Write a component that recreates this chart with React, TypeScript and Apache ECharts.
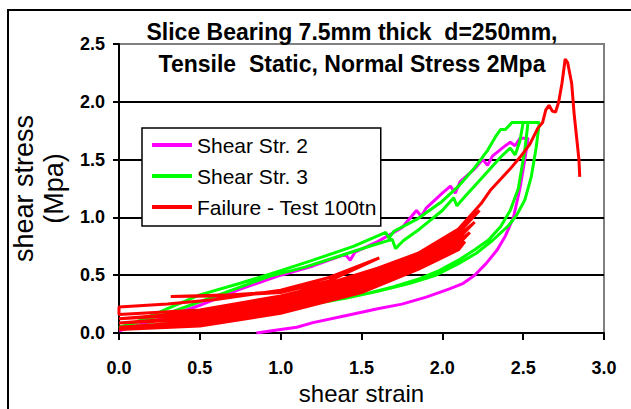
import React, { useEffect, useRef } from "react";
import * as echarts from "echarts";

const titleLines = ["Slice Bearing 7.5mm thick  d=250mm,", "Tensile  Static, Normal Stress 2Mpa"];
const seriesNames = ["Shear Str. 2", "Shear Str. 3", "Failure - Test 100tn"];
const seriesColors = ["#FF00FF", "#00FF00", "#FF0000"];

// Shear Str. 2 (magenta)
const shear2Load = [
  [0.0, 0.02], [0.25, 0.12], [0.5, 0.24], [0.75, 0.38], [1.0, 0.5], [1.2, 0.58], [1.4, 0.68],
  [1.43, 0.63], [1.46, 0.7], [1.6, 0.79], [1.75, 0.91], [1.84, 1.06], [1.87, 1.01], [1.9, 1.08],
  [2.0, 1.21], [2.05, 1.27], [2.08, 1.21], [2.11, 1.31], [2.2, 1.42], [2.25, 1.5], [2.28, 1.45],
  [2.31, 1.53], [2.38, 1.61], [2.42, 1.65], [2.45, 1.62], [2.48, 1.685], [2.53, 1.685],
];
const shear2Unload = [
  [2.51, 1.5], [2.48, 1.25], [2.44, 1.0], [2.39, 0.84], [2.34, 0.72], [2.27, 0.6], [2.2, 0.5],
  [2.13, 0.43], [2.04, 0.38], [1.9, 0.31], [1.75, 0.25], [1.6, 0.21], [1.4, 0.15], [1.2, 0.09],
  [1.1, 0.05], [1.0, 0.03], [0.85, 0.0],
];

// Shear Str. 3 (green)
const shear3Load1 = [
  [0.0, 0.04], [0.15, 0.12], [0.3, 0.21], [0.5, 0.33], [0.75, 0.43], [1.0, 0.54], [1.2, 0.63],
  [1.45, 0.75], [1.65, 0.87], [1.67, 0.82], [1.7, 0.88], [1.85, 0.99], [2.0, 1.14], [2.1, 1.27],
  [2.2, 1.43], [2.28, 1.58], [2.33, 1.7], [2.36, 1.76], [2.39, 1.76], [2.43, 1.82], [2.6, 1.82],
];
const shear3Unload1 = [
  [2.58, 1.6], [2.55, 1.35], [2.51, 1.15], [2.46, 1.02], [2.41, 0.93], [2.31, 0.8], [2.21, 0.69],
  [2.1, 0.6], [1.96, 0.5], [1.8, 0.43], [1.6, 0.36], [1.4, 0.3], [1.2, 0.25], [0.93, 0.19],
  [0.6, 0.13], [0.3, 0.08], [0.0, 0.05],
];
const shear3Load2 = [
  [0.3, 0.17], [0.6, 0.32], [0.93, 0.49], [1.15, 0.57], [1.35, 0.66], [1.55, 0.75], [1.69, 0.81],
  [1.71, 0.73], [1.76, 0.8], [1.86, 0.9], [2.0, 1.06], [2.07, 1.17], [2.09, 1.1], [2.14, 1.18],
  [2.25, 1.35], [2.36, 1.52], [2.42, 1.6], [2.45, 1.54], [2.48, 1.66], [2.5, 1.82], [2.53, 1.82],
];
const shear3Unload2 = [
  [2.51, 1.58], [2.47, 1.25], [2.42, 1.06], [2.36, 0.92], [2.29, 0.81], [2.2, 0.72], [2.1, 0.63],
  [1.98, 0.54], [1.86, 0.47], [1.7, 0.4], [1.5, 0.33], [1.2, 0.26], [0.93, 0.19], [0.5, 0.11],
  [0.0, 0.04],
];

// Failure - Test 100tn (red): dense band of load/unload cycles
const failCycle1 = [
  [0.0, 0.03], [0.5, 0.06], [1.0, 0.17], [1.5, 0.35], [1.85, 0.55], [2.1, 0.72], [2.14, 0.79],
  [2.1, 0.744], [1.85, 0.569], [1.5, 0.37], [1.0, 0.191], [0.5, 0.08], [0.0, 0.049],
];
const failCycle2 = [
  [0.5, 0.1], [1.0, 0.213], [1.5, 0.39], [1.85, 0.587], [2.1, 0.769], [2.17, 0.87],
  [2.1, 0.793], [1.85, 0.606], [1.5, 0.41], [1.0, 0.234], [0.5, 0.12], [0.0, 0.086],
];
const failCycle3 = [
  [0.5, 0.14], [1.0, 0.256], [1.5, 0.43], [1.85, 0.624], [2.1, 0.817], [2.2, 0.96],
  [2.1, 0.841], [1.85, 0.643], [1.5, 0.45], [1.0, 0.277], [0.5, 0.16], [0.0, 0.123],
];
const failCycle4 = [
  [0.5, 0.18], [1.0, 0.299], [1.5, 0.47], [1.85, 0.661], [2.1, 0.866], [2.23, 1.06],
  [2.1, 0.89], [1.85, 0.68], [1.5, 0.49], [1.0, 0.32], [0.5, 0.2], [0.0, 0.16],
];
const failCycle5 = [
  [0.0, 0.225], [0.3, 0.25], [0.6, 0.29], [1.0, 0.37], [1.3, 0.48], [1.61, 0.65],
  [1.3, 0.45], [1.0, 0.35], [0.6, 0.32], [0.32, 0.316],
];
const failFinal = [
  [0.7, 0.33], [1.0, 0.36], [1.3, 0.43], [1.6, 0.56], [1.85, 0.69], [2.1, 0.9], [2.24, 1.12],
  [2.3, 1.24], [2.36, 1.33], [2.42, 1.42], [2.48, 1.52], [2.54, 1.63], [2.59, 1.77],
  [2.62, 1.82], [2.64, 1.93], [2.66, 1.97], [2.68, 1.92], [2.7, 1.91], [2.72, 2.0], [2.74, 2.16],
  [2.76, 2.37], [2.775, 2.34], [2.8, 2.16], [2.815, 1.9], [2.83, 1.7], [2.845, 1.5], [2.85, 1.35],
];

const FONT = "'Liberation Sans', Arial, sans-serif";

export default function App() {
  const ref = useRef<HTMLDivElement>(null);
  useEffect(() => {
    if (!ref.current) return;
    const chart = echarts.init(ref.current, undefined, { renderer: "svg" });
    const shear2 = [...shear2Load, ...shear2Unload];
    const shear3 = [...shear3Load1, ...shear3Unload1, ...shear3Load2, ...shear3Unload2];
    const fail = [...failCycle1, ...failCycle2, ...failCycle3, ...failCycle4, ...failCycle5, ...failFinal];
    const widths = [3, 3, 3];
    const mk = (i: number, data: number[][]) => ({
      name: seriesNames[i],
      type: "line",
      data,
      showSymbol: false,
      symbol: "none",
      smooth: false,
      color: seriesColors[i],
      lineStyle: { color: seriesColors[i], width: widths[i] },
    });
    chart.setOption({
      animation: false,
      backgroundColor: "#fff",
      title: {
        text: titleLines.join("\n"),
        left: 352,
        top: 16,
        padding: 0,
        textAlign: "center",
        textStyle: { fontFamily: FONT, fontSize: 23, fontWeight: "bold", color: "#000", lineHeight: 32 },
      },
      graphic: [
        {
          type: "rect",
          shape: { x: 8, y: 10, width: 640, height: 420 },
          style: { fill: "none", stroke: "#000", lineWidth: 2 },
          z: -1,
          silent: true,
        },
      ],
      legend: {
        orient: "vertical",
        left: 142,
        top: 128,
        icon: "rect",
        itemWidth: 40,
        itemHeight: 4,
        itemGap: 7,
        padding: [5, 4, 7, 10],
        borderColor: "#000",
        borderWidth: 1.5,
        backgroundColor: "#fff",
        textStyle: { fontFamily: FONT, fontSize: 21, color: "#000", lineHeight: 24 },
        data: seriesNames,
      },
      grid: {
        left: 119,
        top: 44,
        right: 27,
        bottom: 76,
        containLabel: false,
        outerBoundsMode: "none",
        show: true,
        borderColor: "#808080",
        borderWidth: 2,
        backgroundColor: "#fff",
      },
      xAxis: {
        type: "value",
        min: 0,
        max: 3,
        interval: 0.5,
        name: "shear strain",
        nameLocation: "middle",
        nameGap: 45,
        nameTextStyle: { fontFamily: FONT, fontSize: 24, color: "#000" },
        axisLine: { show: true, lineStyle: { color: "#000", width: 2 } },
        axisTick: { show: true, inside: false, length: 7, lineStyle: { color: "#000", width: 2 } },
        axisLabel: {
          margin: 26,
          fontFamily: FONT,
          fontSize: 18,
          fontWeight: "bold",
          color: "#000",
          formatter: (v: number) => v.toFixed(1),
        },
        splitLine: { show: false },
      },
      yAxis: {
        type: "value",
        min: 0,
        max: 2.5,
        interval: 0.5,
        name: "shear stress\n(Mpa)",
        nameLocation: "middle",
        nameRotate: 90,
        nameGap: 46,
        nameTextStyle: { fontFamily: FONT, fontSize: 27, color: "#000", lineHeight: 30 },
        axisLine: { show: true, lineStyle: { color: "#000", width: 2 } },
        axisTick: { show: true, inside: false, length: 6, lineStyle: { color: "#000", width: 2 } },
        axisLabel: {
          margin: 14,
          fontFamily: FONT,
          fontSize: 18,
          fontWeight: "bold",
          color: "#000",
          formatter: (v: number) => v.toFixed(1),
        },
        splitLine: { show: true, showMaxLine: false, lineStyle: { color: "#000", width: 2 } },
      },
      series: [mk(0, shear2), mk(1, shear3), mk(2, fail)],
    });
    return () => chart.dispose();
  }, []);
  return (
    <div
      ref={ref}
      style={{ position: "fixed", left: 0, top: 0, width: 631, height: 409, background: "#fff" }}
    />
  );
}
